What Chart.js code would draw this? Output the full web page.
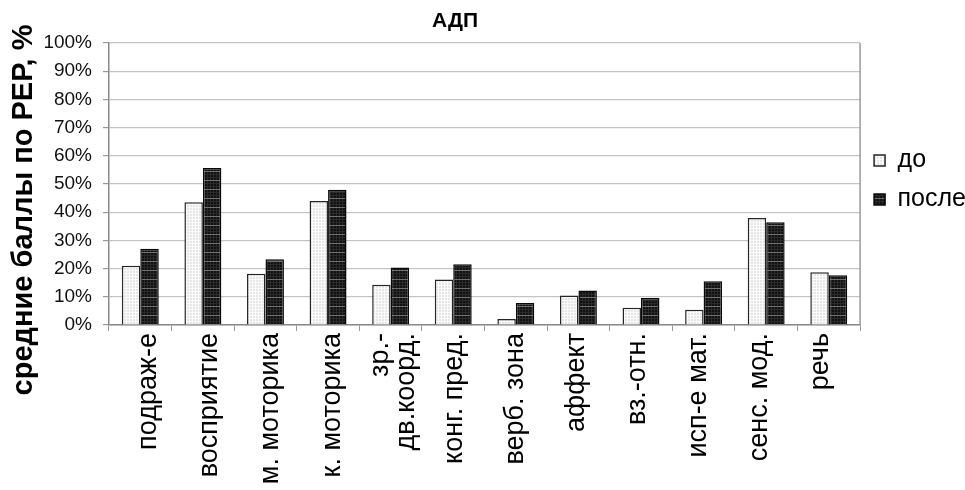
<!DOCTYPE html>
<html><head><meta charset="utf-8">
<script src="https://cdn.jsdelivr.net/npm/chart.js@4.4.1/dist/chart.umd.min.js"></script>
<style>html,body{margin:0;padding:0;background:#fff;overflow:hidden}</style>
</head><body>
<canvas id="c" width="965" height="490"></canvas>
<script>
const categories = ['подраж-е', 'восприятие', 'м. моторика', 'к. моторика', ['зр.-', 'дв.коорд.'], 'конг. пред.', 'верб. зона', 'аффект', 'вз.-отн.', 'исп-е мат.', 'сенс. мод.', 'речь'];
const seriesNames = ['до', 'после'];
const valuesBefore = [21, 43.5, 18.2, 44, 14.3, 16.1, 2.1, 10.5, 6.1, 5.4, 37.9, 18.7];
const valuesAfter = [27, 55.7, 23.3, 48, 20.4, 21.5, 7.8, 12.2, 9.6, 15.5, 36.4, 17.6];
const yTickValues = [0, 10, 20, 30, 40, 50, 60, 70, 80, 90, 100];
const chartTitle = 'АДП';
const yAxisTitle = 'средние баллы по РЕР, %';

const FONT = "'Liberation Sans', Arial, sans-serif";

function makePattern(draw, w, h) {
  const c = document.createElement('canvas');
  c.width = w; c.height = h;
  const x = c.getContext('2d');
  draw(x, w, h);
  return x.createPattern(c, 'repeat');
}
const lightPat = makePattern((x, w, h) => {
  x.fillStyle = '#e6e6e6'; x.fillRect(0, 0, w, h);
  x.fillStyle = '#fbfbfb'; x.fillRect(0, 0, w, 1); x.fillRect(0, 0, 1, h);
}, 3, 3);
const darkPat = makePattern((x, w, h) => {
  x.fillStyle = '#121212'; x.fillRect(0, 0, w, h);
  x.fillStyle = '#2a2a2a'; x.fillRect(0, 0, 1, h); x.fillRect(0, 3, w, 1); x.fillRect(0, 6, w, 1);
  x.fillStyle = '#707070'; x.fillRect(0, 0, w, 1);
}, 3, 9);

const decor = {
  id: 'decor',
  afterLayout(chart) {
    const lg = chart.legend;
    if (lg) { lg.top -= 4; lg.bottom -= 4; }
  },
  beforeDraw(chart) {
    // nudge the rotated category labels the way the original layout places them
    const s = chart.scales.x;
    const items = s.getLabelItems();
    if (items._nudged) return;
    items._nudged = true;
    items.forEach((it, i) => {
      const lines = Array.isArray(it.label) ? it.label.length : 1;
      it.options.translation[0] += 8.5 - 1.5 * i - (lines - 1) * it.font.lineHeight / 2;
    });
  },
  beforeDatasetsDraw(chart) {
    const { ctx, chartArea: a } = chart;
    ctx.save();
    ctx.strokeStyle = '#9a9a9a';
    ctx.lineWidth = 1.5;
    ctx.beginPath();
    ctx.moveTo(a.right, a.top);
    ctx.lineTo(a.right, a.bottom);
    ctx.stroke();
    ctx.restore();
  },
  afterDraw(chart) {
    const { ctx } = chart;
    ctx.save();
    ctx.fillStyle = '#000';
    ctx.textAlign = 'center';
    ctx.textBaseline = 'middle';
    ctx.font = 'bold 21px ' + FONT;
    ctx.fillText(chartTitle, 455, 21);
    ctx.translate(24, 210);
    ctx.rotate(-Math.PI / 2);
    ctx.font = 'bold 29px ' + FONT;
    ctx.fillText(yAxisTitle, 0, 0);
    ctx.restore();
  }
};

new Chart(document.getElementById('c'), {
  type: 'bar',
  data: {
    labels: categories,
    datasets: [
      { label: seriesNames[0], data: valuesBefore, backgroundColor: lightPat, borderColor: '#262626', borderWidth: 1.5 },
      { label: seriesNames[1], data: valuesAfter, backgroundColor: darkPat, borderColor: '#0a0a0a', borderWidth: 1.5 }
    ]
  },
  options: {
    responsive: false,
    animation: false,
    devicePixelRatio: 1,
    categoryPercentage: 0.59,
    barPercentage: 1.0,
    layout: { padding: { top: 43, left: 0, right: -11, bottom: 0 } },
    plugins: {
      title: { display: false },
      tooltip: { enabled: false },
      legend: {
        position: 'right',
        fullSize: false,
        align: 'center',
        labels: {
          boxWidth: 11, boxHeight: 11, padding: 14,
          color: '#000',
          font: { family: FONT, size: 25 }
        }
      }
    },
    scales: {
      x: {
        grid: { display: true, drawOnChartArea: false, drawTicks: true, tickLength: 6, tickColor: '#9a9a9a', offset: true },
        border: { display: true, color: '#8a8a8a', width: 1.5 },
        ticks: {
          autoSkip: false, minRotation: 90, maxRotation: 90, padding: 2,
          color: '#000',
          font: { family: FONT, size: 27, lineHeight: 0.97 }
        },
        afterFit(scale) { scale.height = 165; }
      },
      y: {
        min: 0, max: 100,
        afterBuildTicks(scale) { scale.ticks = yTickValues.map(v => ({ value: v })); },
        grid: { color: '#c4c4c4', lineWidth: 1.2, drawTicks: true, tickLength: 6, tickColor: '#9a9a9a' },
        border: { display: true, color: '#8a8a8a', width: 1.5 },
        ticks: {
          padding: 11,
          color: '#111',
          font: { family: FONT, size: 19 },
          callback: v => v + '%'
        },
        afterFit(scale) { scale.width = 109; }
      }
    }
  },
  plugins: [decor]
});
</script>
</body></html>
